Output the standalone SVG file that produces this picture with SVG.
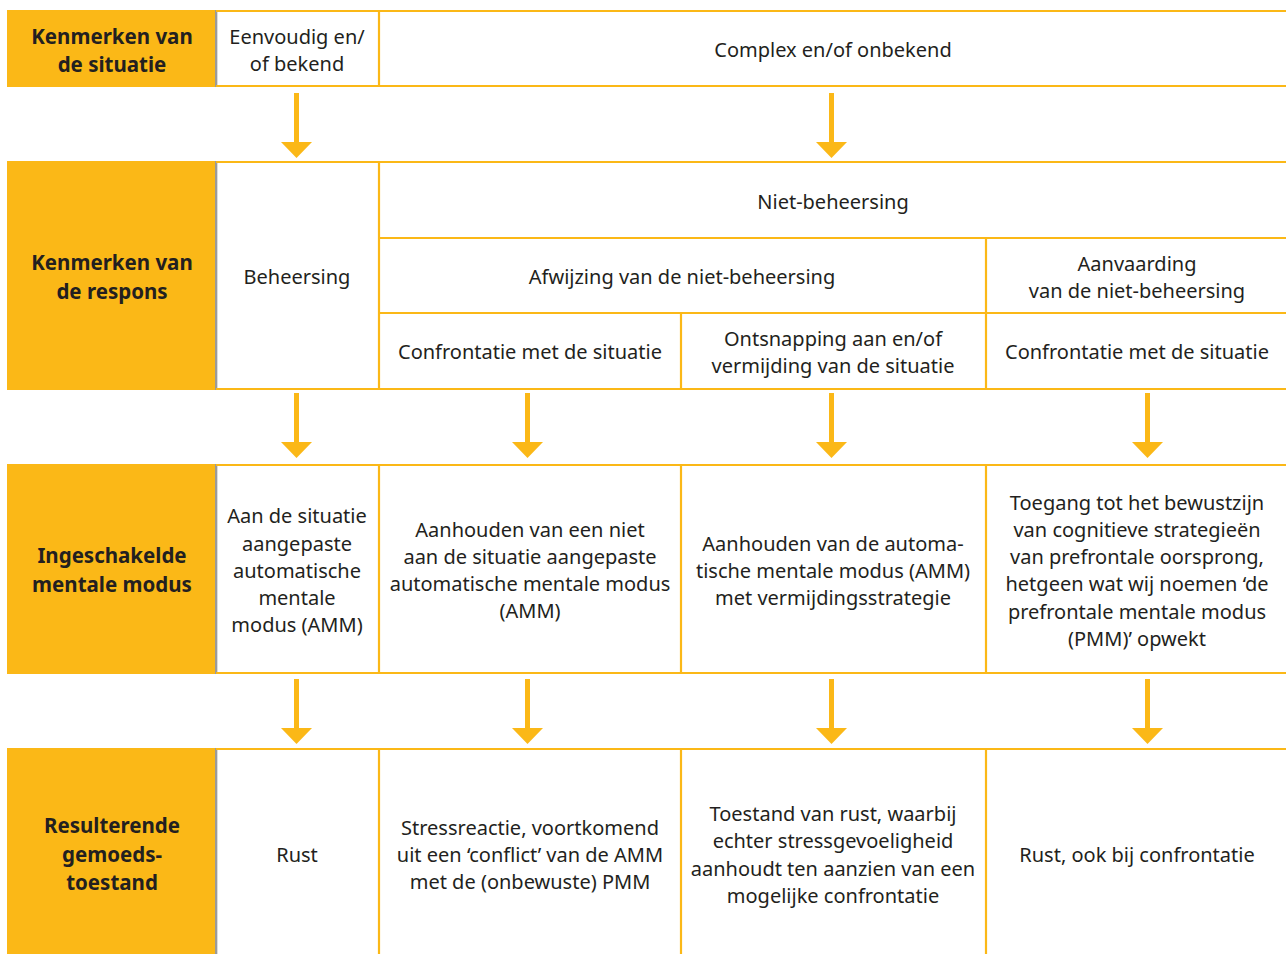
<svg xmlns="http://www.w3.org/2000/svg" xmlns:xlink="http://www.w3.org/1999/xlink" width="1286" height="954" viewBox="0 0 1286 954">
<style>
.hdr{fill:#FBB817}
.ln{stroke:#FBB817;stroke-width:2.2;fill:none}
.sh{stroke:#9a9a9a;stroke-width:2}
.sh2{stroke:#dcdcdc;stroke-width:1}
.h{font-family:"Noto Sans","Open Sans",sans-serif;font-weight:bold;font-size:20.5px;fill:#231f20;text-anchor:middle}
.t{font-family:"Noto Sans","Open Sans",sans-serif;font-size:20px;fill:#231f20;text-anchor:middle}
.ar{fill:#FBB817}
</style>
<defs>
<path id="arr" d="M-2.5,0 H2.5 V49 H15.5 L0,65 L-15.5,49 H-2.5 Z"/>
</defs>
<rect width="1286" height="954" fill="#ffffff"/>

<g id="row1">
<rect class="hdr" x="7" y="10" width="209" height="77"/>
<line class="sh" x1="216" y1="10" x2="216" y2="87"/>
<line class="sh2" x1="217.5" y1="12" x2="217.5" y2="85"/>
<path class="ln" d="M216,11 H1286 M216,86 H1286 M379,11 V86"/>
<text class="h" x="112" y="44">Kenmerken van</text>
<text class="h" x="112" y="72">de situatie</text>
<text class="t" x="297" y="44">Eenvoudig en/</text>
<text class="t" x="297" y="71">of bekend</text>
<text class="t" x="833" y="57">Complex en/of onbekend</text>
</g>

<g id="row2">
<rect class="hdr" x="7" y="161" width="209" height="229"/>
<line class="sh" x1="216" y1="161" x2="216" y2="390"/>
<line class="sh2" x1="217.5" y1="163" x2="217.5" y2="388"/>
<path class="ln" d="M216,162 H1286 M216,389 H1286 M379,238 H1286 M379,313 H1286 M379,162 V389 M986,238 V389 M681,313 V389"/>
<text class="h" x="112" y="270">Kenmerken van</text>
<text class="h" x="112" y="299">de respons</text>
<text class="t" x="297" y="284">Beheersing</text>
<text class="t" x="833" y="209">Niet-beheersing</text>
<text class="t" x="682" y="284">Afwijzing van de niet-beheersing</text>
<text class="t" x="1137" y="271">Aanvaarding</text>
<text class="t" x="1137" y="298">van de niet-beheersing</text>
<text class="t" x="530" y="359">Confrontatie met de situatie</text>
<text class="t" x="833" y="346">Ontsnapping aan en/of</text>
<text class="t" x="833" y="373">vermijding van de situatie</text>
<text class="t" x="1137" y="359">Confrontatie met de situatie</text>
</g>

<g id="row3">
<rect class="hdr" x="7" y="464" width="209" height="210"/>
<line class="sh" x1="216" y1="464" x2="216" y2="674"/>
<line class="sh2" x1="217.5" y1="466" x2="217.5" y2="672"/>
<path class="ln" d="M216,465 H1286 M216,673 H1286 M379,465 V673 M681,465 V673 M986,465 V673"/>
<text class="h" x="112" y="563">Ingeschakelde</text>
<text class="h" x="112" y="592">mentale modus</text>
<text class="t" x="297" y="523">Aan de situatie</text>
<text class="t" x="297" y="551">aangepaste</text>
<text class="t" x="297" y="578">automatische</text>
<text class="t" x="297" y="605">mentale</text>
<text class="t" x="297" y="632">modus (AMM)</text>
<text class="t" x="530" y="537">Aanhouden van een niet</text>
<text class="t" x="530" y="564">aan de situatie aangepaste</text>
<text class="t" x="530" y="591">automatische mentale modus</text>
<text class="t" x="530" y="618">(AMM)</text>
<text class="t" x="833" y="551">Aanhouden van de automa-</text>
<text class="t" x="833" y="578">tische mentale modus (AMM)</text>
<text class="t" x="833" y="605">met vermijdingsstrategie</text>
<text class="t" x="1137" y="510">Toegang tot het bewustzijn</text>
<text class="t" x="1137" y="537">van cognitieve strategieën</text>
<text class="t" x="1137" y="564">van prefrontale oorsprong,</text>
<text class="t" x="1137" y="591">hetgeen wat wij noemen ‘de</text>
<text class="t" x="1137" y="619">prefrontale mentale modus</text>
<text class="t" x="1137" y="646">(PMM)’ opwekt</text>
</g>

<g id="row4">
<rect class="hdr" x="7" y="748" width="209" height="206"/>
<line class="sh" x1="216" y1="748" x2="216" y2="954"/>
<line class="sh2" x1="217.5" y1="750" x2="217.5" y2="954"/>
<path class="ln" d="M216,749 H1286 M379,749 V954 M681,749 V954 M986,749 V954"/>
<text class="h" x="112" y="833">Resulterende</text>
<text class="h" x="112" y="862">gemoeds-</text>
<text class="h" x="112" y="890">toestand</text>
<text class="t" x="297" y="862">Rust</text>
<text class="t" x="530" y="835">Stressreactie, voortkomend</text>
<text class="t" x="530" y="862">uit een ‘conflict’ van de AMM</text>
<text class="t" x="530" y="889">met de (onbewuste) PMM</text>
<text class="t" x="833" y="821">Toestand van rust, waarbij</text>
<text class="t" x="833" y="848">echter stressgevoeligheid</text>
<text class="t" x="833" y="876">aanhoudt ten aanzien van een</text>
<text class="t" x="833" y="903">mogelijke confrontatie</text>
<text class="t" x="1137" y="862">Rust, ook bij confrontatie</text>
</g>

<g id="connectors" class="ar">
<use xlink:href="#arr" x="296.5" y="93"/>
<use xlink:href="#arr" x="831.5" y="93"/>
<use xlink:href="#arr" x="296.5" y="393"/>
<use xlink:href="#arr" x="527.5" y="393"/>
<use xlink:href="#arr" x="831.5" y="393"/>
<use xlink:href="#arr" x="1147.5" y="393"/>
<use xlink:href="#arr" x="296.5" y="679"/>
<use xlink:href="#arr" x="527.5" y="679"/>
<use xlink:href="#arr" x="831.5" y="679"/>
<use xlink:href="#arr" x="1147.5" y="679"/>
</g>
</svg>
